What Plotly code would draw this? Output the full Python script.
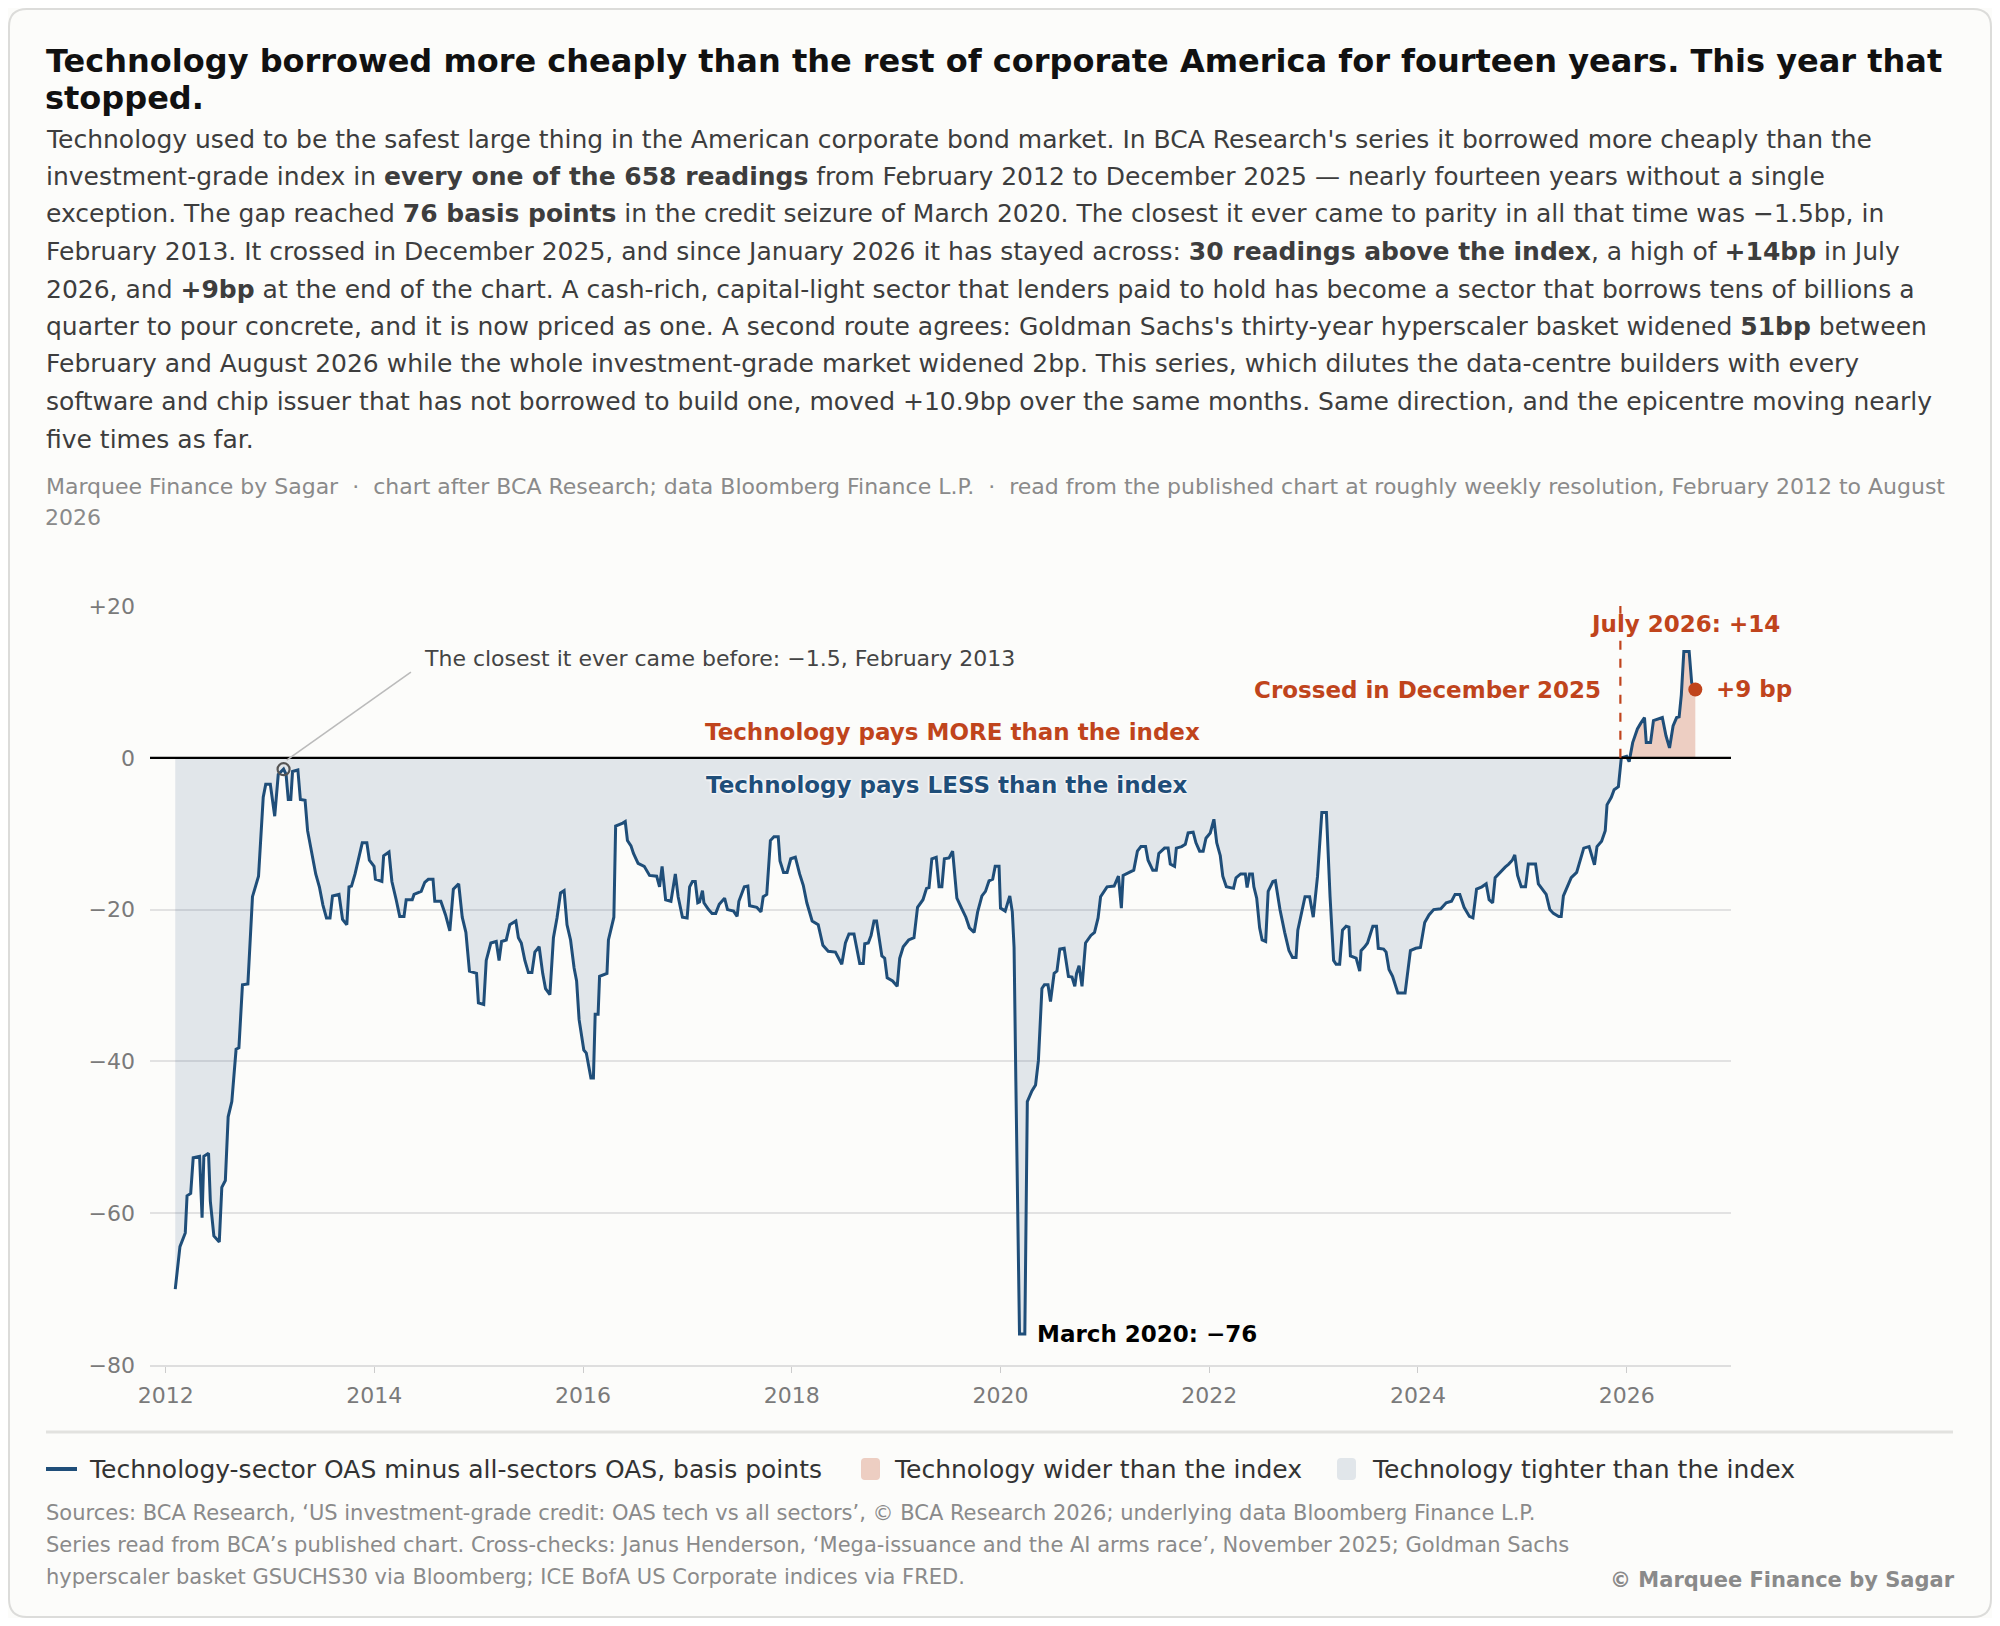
import numpy as np
import plotly.graph_objects as go

# technology-sector OAS minus all-sectors OAS (bp)
years = [
    2012.092, 2012.137, 2012.188, 2012.205, 2012.240, 2012.264, 2012.325, 2012.349, 2012.366, 2012.411,
    2012.428, 2012.462, 2012.514, 2012.538, 2012.572, 2012.599, 2012.634, 2012.675, 2012.702, 2012.736,
    2012.788, 2012.832, 2012.890, 2012.935, 2012.959, 2013.003, 2013.045, 2013.079, 2013.130, 2013.154,
    2013.175, 2013.199, 2013.216, 2013.267, 2013.291, 2013.336, 2013.360, 2013.387, 2013.438, 2013.473,
    2013.507, 2013.541, 2013.575, 2013.599, 2013.661, 2013.695, 2013.736, 2013.757, 2013.781, 2013.815,
    2013.849, 2013.884, 2013.928, 2013.952, 2013.997, 2014.010, 2014.072, 2014.089, 2014.140, 2014.168,
    2014.209, 2014.243, 2014.284, 2014.305, 2014.363, 2014.380, 2014.449, 2014.483, 2014.517, 2014.562,
    2014.579, 2014.637, 2014.682, 2014.723, 2014.757, 2014.808, 2014.842, 2014.877, 2014.911, 2014.979,
    2014.997, 2015.048, 2015.072, 2015.116, 2015.168, 2015.195, 2015.219, 2015.264, 2015.298, 2015.356,
    2015.380, 2015.408, 2015.442, 2015.476, 2015.510, 2015.538, 2015.579, 2015.613, 2015.640, 2015.682,
    2015.716, 2015.750, 2015.784, 2015.818, 2015.846, 2015.880, 2015.914, 2015.938, 2015.962, 2016.007,
    2016.031, 2016.075, 2016.099, 2016.116, 2016.144, 2016.158, 2016.229, 2016.243, 2016.295, 2016.312,
    2016.380, 2016.404, 2016.425, 2016.459, 2016.483, 2016.527, 2016.586, 2016.637, 2016.705, 2016.733,
    2016.757, 2016.791, 2016.842, 2016.884, 2016.911, 2016.952, 2016.997, 2017.021, 2017.048, 2017.075,
    2017.099, 2017.116, 2017.144, 2017.158, 2017.202, 2017.236, 2017.271, 2017.305, 2017.356, 2017.384,
    2017.442, 2017.476, 2017.493, 2017.545, 2017.579, 2017.596, 2017.664, 2017.705, 2017.726, 2017.760,
    2017.795, 2017.829, 2017.870, 2017.887, 2017.921, 2017.955, 2017.990, 2018.034, 2018.075, 2018.110,
    2018.144, 2018.195, 2018.253, 2018.298, 2018.349, 2018.418, 2018.479, 2018.514, 2018.548, 2018.596,
    2018.651, 2018.685, 2018.699, 2018.733, 2018.760, 2018.788, 2018.812, 2018.863, 2018.890, 2018.914,
    2018.966, 2019.010, 2019.034, 2019.068, 2019.120, 2019.171, 2019.205, 2019.257, 2019.291, 2019.315,
    2019.342, 2019.384, 2019.411, 2019.438, 2019.462, 2019.507, 2019.541, 2019.582, 2019.623, 2019.668,
    2019.702, 2019.747, 2019.781, 2019.822, 2019.856, 2019.890, 2019.925, 2019.949, 2019.986, 2020.000,
    2020.045, 2020.089, 2020.113, 2020.130, 2020.147, 2020.182, 2020.233, 2020.257, 2020.301, 2020.336,
    2020.363, 2020.397, 2020.421, 2020.455, 2020.479, 2020.514, 2020.541, 2020.568, 2020.610, 2020.651,
    2020.685, 2020.712, 2020.729, 2020.753, 2020.781, 2020.815, 2020.866, 2020.901, 2020.935, 2020.959,
    2021.021, 2021.089, 2021.130, 2021.158, 2021.175, 2021.226, 2021.277, 2021.312, 2021.346, 2021.390,
    2021.414, 2021.459, 2021.493, 2021.517, 2021.572, 2021.606, 2021.627, 2021.668, 2021.685, 2021.736,
    2021.771, 2021.798, 2021.846, 2021.873, 2021.908, 2021.942, 2021.969, 2022.010, 2022.045, 2022.072,
    2022.106, 2022.130, 2022.164, 2022.233, 2022.257, 2022.301, 2022.346, 2022.363, 2022.387, 2022.414,
    2022.428, 2022.455, 2022.483, 2022.507, 2022.541, 2022.565, 2022.610, 2022.634, 2022.678, 2022.723,
    2022.764, 2022.798, 2022.832, 2022.849, 2022.884, 2022.918, 2022.962, 2022.997, 2023.038, 2023.079,
    2023.123, 2023.158, 2023.192, 2023.216, 2023.250, 2023.277, 2023.312, 2023.339, 2023.353, 2023.408,
    2023.442, 2023.455, 2023.490, 2023.517, 2023.568, 2023.603, 2023.620, 2023.671, 2023.695, 2023.723,
    2023.757, 2023.808, 2023.877, 2023.928, 2023.979, 2024.024, 2024.065, 2024.106, 2024.151, 2024.219,
    2024.271, 2024.322, 2024.356, 2024.401, 2024.442, 2024.493, 2024.527, 2024.562, 2024.613, 2024.654,
    2024.682, 2024.716, 2024.740, 2024.784, 2024.836, 2024.870, 2024.904, 2024.928, 2024.955, 2024.990,
    2025.031, 2025.058, 2025.127, 2025.154, 2025.195, 2025.229, 2025.264, 2025.298, 2025.349, 2025.373,
    2025.394, 2025.435, 2025.469, 2025.521, 2025.545, 2025.589, 2025.640, 2025.692, 2025.716, 2025.760,
    2025.795, 2025.812, 2025.853, 2025.880, 2025.921, 2025.949, 2026.000, 2026.024, 2026.058, 2026.103,
    2026.137, 2026.171, 2026.188, 2026.229, 2026.257, 2026.298, 2026.342, 2026.377, 2026.411, 2026.445,
    2026.479, 2026.503, 2026.524, 2026.548, 2026.599, 2026.623, 2026.658,
]
spread_bp = [
    -70.0, -64.4, -62.6, -57.7, -57.4, -52.7, -52.5, -60.6, -52.5, -52.1,
    -58.4, -63.0, -63.8, -56.6, -55.7, -47.3, -45.3, -38.4, -38.2, -29.9,
    -29.8, -18.3, -15.6, -5.2, -3.5, -3.5, -7.7, -2.2, -1.5, -2.2,
    -5.5, -5.5, -1.8, -1.6, -5.5, -5.6, -9.6, -11.6, -15.3, -17.0,
    -19.4, -21.1, -21.1, -18.2, -18.0, -21.3, -22.0, -17.0, -16.9, -15.3,
    -13.3, -11.2, -11.2, -13.5, -14.3, -16.0, -16.3, -12.9, -12.4, -16.3,
    -18.7, -20.9, -20.9, -18.7, -18.7, -18.0, -17.6, -16.4, -16.0, -16.0,
    -18.9, -18.9, -20.7, -22.8, -17.3, -16.6, -21.0, -23.0, -28.1, -28.4,
    -32.3, -32.5, -26.7, -24.4, -24.2, -26.7, -24.2, -24.0, -22.0, -21.5,
    -23.7, -24.4, -26.7, -28.3, -28.3, -25.6, -24.9, -28.4, -30.4, -31.2,
    -23.7, -21.1, -17.8, -17.5, -22.0, -24.0, -27.7, -29.4, -34.5, -38.5,
    -38.9, -42.2, -42.2, -33.8, -33.8, -28.8, -28.4, -24.0, -21.0, -9.0,
    -8.6, -8.4, -10.9, -11.6, -12.6, -13.9, -14.3, -15.5, -15.6, -17.0,
    -14.3, -18.7, -18.9, -15.3, -18.3, -21.0, -21.1, -17.0, -16.3, -16.3,
    -19.1, -19.0, -17.5, -19.1, -20.0, -20.5, -20.5, -19.3, -18.5, -20.0,
    -20.2, -20.9, -18.9, -17.0, -16.9, -19.5, -19.7, -20.3, -18.3, -18.0,
    -10.9, -10.4, -10.4, -13.6, -15.1, -15.1, -13.3, -13.1, -15.3, -16.8,
    -19.1, -21.5, -22.0, -24.7, -25.5, -25.6, -27.2, -24.4, -23.2, -23.2,
    -27.1, -27.1, -24.5, -24.4, -23.4, -21.5, -21.5, -26.1, -26.4, -29.0,
    -29.4, -30.1, -26.4, -24.9, -24.0, -23.7, -19.7, -18.7, -17.2, -17.1,
    -13.3, -13.1, -17.0, -17.0, -13.3, -13.2, -12.3, -18.5, -19.7, -21.0,
    -22.4, -23.0, -20.3, -18.2, -17.6, -16.2, -16.0, -14.3, -14.3, -19.8,
    -20.2, -18.2, -20.3, -25.0, -42.6, -75.9, -75.9, -45.3, -43.9, -43.1,
    -39.9, -30.4, -29.9, -29.9, -32.1, -28.4, -28.1, -25.2, -25.1, -28.8,
    -28.9, -30.1, -28.4, -27.4, -30.1, -24.4, -23.4, -23.0, -21.1, -18.3,
    -17.0, -16.9, -15.6, -19.8, -15.5, -15.1, -14.8, -12.3, -11.7, -11.7,
    -13.5, -14.8, -14.8, -12.6, -11.9, -11.9, -14.0, -14.3, -11.9, -11.7,
    -11.4, -9.9, -9.8, -11.2, -12.3, -12.3, -10.6, -9.9, -8.1, -11.2,
    -12.9, -15.6, -17.0, -17.2, -15.8, -15.3, -15.3, -17.1, -15.3, -15.3,
    -17.0, -18.5, -22.4, -24.0, -24.2, -17.6, -16.3, -16.2, -20.0, -23.0,
    -25.4, -26.3, -26.3, -22.7, -20.3, -18.3, -18.3, -21.0, -15.6, -7.2,
    -7.2, -18.3, -26.7, -27.2, -27.2, -22.7, -22.2, -22.3, -26.1, -26.4,
    -28.1, -25.4, -24.9, -24.4, -22.2, -22.2, -25.1, -25.2, -25.6, -27.9,
    -28.8, -31.0, -31.0, -25.4, -25.1, -25.0, -21.7, -20.7, -20.0, -19.9,
    -19.1, -18.9, -18.0, -18.0, -19.7, -20.9, -21.1, -17.3, -17.0, -16.6,
    -18.7, -19.1, -15.8, -15.1, -14.4, -14.0, -13.5, -12.8, -15.5, -17.0,
    -17.0, -14.0, -14.0, -16.6, -17.3, -18.0, -20.0, -20.5, -20.9, -20.9,
    -18.2, -17.0, -15.8, -15.1, -14.0, -11.9, -11.7, -14.1, -11.7, -11.0,
    -9.6, -6.2, -5.2, -4.2, -3.8, 0.0, 0.2, -0.5, 2.0, 3.8,
    4.6, 5.3, 2.0, 2.0, 4.9, 5.1, 5.3, 2.9, 1.3, 4.2,
    5.3, 5.4, 8.3, 14.0, 14.0, 9.9, 9.0,
]

crossing_year = 2025.94
x_ticks = [2012, 2014, 2016, 2018, 2020, 2022, 2024, 2026]
y_ticks = [-80, -60, -40, -20, 0, 20]
y_tick_labels = ["\u221280", "\u221260", "\u221240", "\u221220", "0", "+20"]

title_lines = [
    "Technology borrowed more cheaply than the rest of corporate America for fourteen years. This year that",
    "stopped.",
]
body_lines = [
    "Technology used to be the safest large thing in the American corporate bond market. In BCA Research's series it borrowed more cheaply than the",
    "investment-grade index in <b>every one of the 658 readings</b> from February 2012 to December 2025 \u2014 nearly fourteen years without a single",
    "exception. The gap reached <b>76 basis points</b> in the credit seizure of March 2020. The closest it ever came to parity in all that time was \u22121.5bp, in",
    "February 2013. It crossed in December 2025, and since January 2026 it has stayed across: <b>30 readings above the index</b>, a high of <b>+14bp</b> in July",
    "2026, and <b>+9bp</b> at the end of the chart. A cash-rich, capital-light sector that lenders paid to hold has become a sector that borrows tens of billions a",
    "quarter to pour concrete, and it is now priced as one. A second route agrees: Goldman Sachs's thirty-year hyperscaler basket widened <b>51bp</b> between",
    "February and August 2026 while the whole investment-grade market widened 2bp. This series, which dilutes the data-centre builders with every",
    "software and chip issuer that has not borrowed to build one, moved +10.9bp over the same months. Same direction, and the epicentre moving nearly",
    "five times as far.",
]
meta_lines = [
    "Marquee Finance by Sagar  \u00b7  chart after BCA Research; data Bloomberg Finance L.P.  \u00b7  read from the published chart at roughly weekly resolution, February 2012 to August",
    "2026",
]
source_lines = [
    "Sources: BCA Research, \u2018US investment-grade credit: OAS tech vs all sectors\u2019, \u00a9 BCA Research 2026; underlying data Bloomberg Finance L.P.",
    "Series read from BCA\u2019s published chart. Cross-checks: Janus Henderson, \u2018Mega-issuance and the AI arms race\u2019, November 2025; Goldman Sachs",
    "hyperscaler basket GSUCHS30 via Bloomberg; ICE BofA US Corporate indices via FRED.",
]
legend_names = [
    "Technology-sector OAS minus all-sectors OAS, basis points",
    "Technology wider than the index",
    "Technology tighter than the index",
]

FONT = "DejaVu Sans"
BLUE = "#1f4e79"
RUST = "#c0441c"
PINK = "rgba(192,68,28,0.25)"
HAZE = "rgba(31,78,121,0.12)"
BG = "#fcfcfa"

# the page body keeps an 8px margin, so the figure is drawn 8px in from the window
OFF = 8
W, H = 2000 - 2 * OFF, 1626 - 2 * OFF
L, R, T, B = 142, 261, 598, 253
PW, PH = W - L - R, H - T - B
TX = 43.5  # left edge of the text column


def paper(x, y):
    # window pixel position -> paper coordinates
    fx, fy = x - OFF, y - OFF
    return (fx - L) / PW, (H - B - fy) / PH


def page_text(x, y, s, size, color, anchor="left"):
    px, py = paper(x, y)
    return dict(x=px, y=py, xref="paper", yref="paper", text=s, showarrow=False,
                xanchor=anchor, yanchor="middle", align=anchor,
                font=dict(family=FONT, size=size, color=color))


def data_text(x, y, s, size, color, anchor="left", **kw):
    return dict(x=x, y=y, xref="x", yref="y", text=s, showarrow=False,
                xanchor=anchor, yanchor="middle",
                font=dict(family=FONT, size=size, color=color, **kw))


def rounded_box(x0, y0, x1, y1, r, **kw):
    # rounded rectangle in window pixels, drawn as a paper-coordinate path
    def p(x, y):
        a, b = paper(x, y)
        return f"{a:.5f},{b:.5f}"
    path = (f"M{p(x0 + r, y0)} L{p(x1 - r, y0)} Q{p(x1, y0)} {p(x1, y0 + r)} "
            f"L{p(x1, y1 - r)} Q{p(x1, y1)} {p(x1 - r, y1)} L{p(x0 + r, y1)} "
            f"Q{p(x0, y1)} {p(x0, y1 - r)} L{p(x0, y0 + r)} Q{p(x0, y0)} {p(x0 + r, y0)} Z")
    return dict(type="path", xref="paper", yref="paper", path=path, **kw)


def page_line(x0, y0, x1, y1, **kw):
    a0, b0 = paper(x0, y0)
    a1, b1 = paper(x1, y1)
    return dict(type="line", xref="paper", yref="paper", x0=a0, x1=a1, y0=b0, y1=b1, **kw)


yrs = np.array(years)
vals = np.array(spread_bp)

fig = go.Figure()
fig.add_trace(go.Scatter(x=yrs, y=np.minimum(vals, 0), mode="none", fill="tozeroy",
                         fillcolor=HAZE, name=legend_names[2], hoverinfo="skip"))
fig.add_trace(go.Scatter(x=yrs, y=np.maximum(vals, 0), mode="none", fill="tozeroy",
                         fillcolor=PINK, name=legend_names[1], hoverinfo="skip"))
fig.add_trace(go.Scatter(x=yrs, y=vals, mode="lines", line=dict(color=BLUE, width=3),
                         name=legend_names[0]))

# pre-crossing high (Feb 2013) and final reading
pre = yrs < 2025
i_hi = int(np.argmax(np.where(pre, vals, -999)))
i_lo = int(np.argmin(vals))
fig.add_trace(go.Scatter(x=[yrs[i_hi]], y=[vals[i_hi]], mode="markers",
                         marker=dict(size=12, color="rgba(0,0,0,0)",
                                     line=dict(color="#555", width=2.2))))
fig.add_trace(go.Scatter(x=[yrs[-1]], y=[vals[-1]], mode="markers",
                         marker=dict(size=14, color=RUST)))

shapes = [
    rounded_box(OFF + 1, OFF + 1, 2000 - OFF - 1, 1626 - OFF - 1, 18,
                line=dict(color="#dcdcda", width=2), layer="below"),
    dict(type="line", xref="paper", yref="y", x0=0, x1=1, y0=0, y1=0,
         line=dict(color="black", width=2.2), layer="above"),
    dict(type="line", xref="x", yref="y", x0=crossing_year, x1=crossing_year, y0=0, y1=20,
         line=dict(color=RUST, width=2.2, dash="dash")),
    dict(type="line", xref="x", yref="y", x0=yrs[i_hi] + 0.03, y0=vals[i_hi] + 1.2,
         x1=2014.35, y1=11.3, line=dict(color="#bbbbbb", width=1.6)),
    # rule above the key
    page_line(46, 1432, 1953, 1432, line=dict(color="#e2e2df", width=3)),
    # key swatches
    page_line(46, 1469, 77, 1469, line=dict(color=BLUE, width=4)),
    rounded_box(861, 1458, 880, 1480, 4, fillcolor=PINK, line=dict(width=0)),
    rounded_box(1337, 1458, 1356, 1480, 4, fillcolor=HAZE, line=dict(width=0)),
]

ann = []
for i, s in enumerate(title_lines):
    ann.append(page_text(TX, 61 + 37 * i, "<b>" + s + "</b>", 32, "#111111"))
for i, s in enumerate(body_lines):
    ann.append(page_text(TX, 139 + 37.5 * i, s, 25, "#3d3d3d"))
for i, s in enumerate(meta_lines):
    ann.append(page_text(TX, 486 + 32 * i, s, 22, "#8a8a8a"))
for i, s in enumerate(source_lines):
    ann.append(page_text(TX, 1513 + 32 * i, s, 21, "#8a8a8a"))
ann.append(page_text(1957, 1580, "<b>\u00a9 Marquee Finance by Sagar</b>", 21, "#8a8a8a", anchor="right"))
for xk, name in zip([87, 892, 1370], legend_names):
    ann.append(page_text(xk, 1469, name, 25, "#333333"))

ann += [
    data_text(2014.46, 13.1, "The closest it ever came before: \u22121.5, February 2013", 22, "#444444"),
    data_text(2019.54, 3.4, "<b>Technology pays MORE than the index</b>", 23, RUST, anchor="center"),
    data_text(2019.49, -3.6, "<b>Technology pays LESS than the index</b>", 23, BLUE, anchor="center",
              shadow="0 0 3px white, 0 0 3px white, 0 0 3px white"),
    data_text(yrs[i_lo] + 0.15, vals[i_lo], "<b>March 2020: \u221276</b>", 23, "black"),
    data_text(2025.77, 8.9, "<b>Crossed in December 2025</b>", 23, RUST, anchor="right"),
    data_text(2026.56, 17.6, "<b>July 2026: +14</b>", 23, RUST, anchor="center"),
    data_text(yrs[-1] + 0.18, vals[-1], "<b>+9 bp</b>", 23, RUST),
]

fig.update_layout(
    width=W, height=H,
    margin=dict(l=L, r=R, t=T, b=B),
    paper_bgcolor=BG, plot_bgcolor=BG,
    font=dict(family=FONT, color="#333333"),
    shapes=shapes, annotations=ann,
    showlegend=False,
    xaxis=dict(range=[2011.85, 2027.0], tickvals=x_ticks, ticks="outside", ticklen=6,
               tickcolor="#cccccc", showgrid=False, zeroline=False, showline=True,
               linecolor="#dedede", linewidth=1.5, ticklabelstandoff=4,
               tickfont=dict(family=FONT, size=22, color="#7a7a7a")),
    yaxis=dict(range=[-80, 20], tickvals=y_ticks, ticktext=y_tick_labels, showgrid=True,
               gridcolor="#e2e2e2", gridwidth=1.5, zeroline=False, ticks="",
               ticklabelstandoff=14, tickfont=dict(family=FONT, size=22, color="#7a7a7a")),
)

fig.write_html("out.html")
